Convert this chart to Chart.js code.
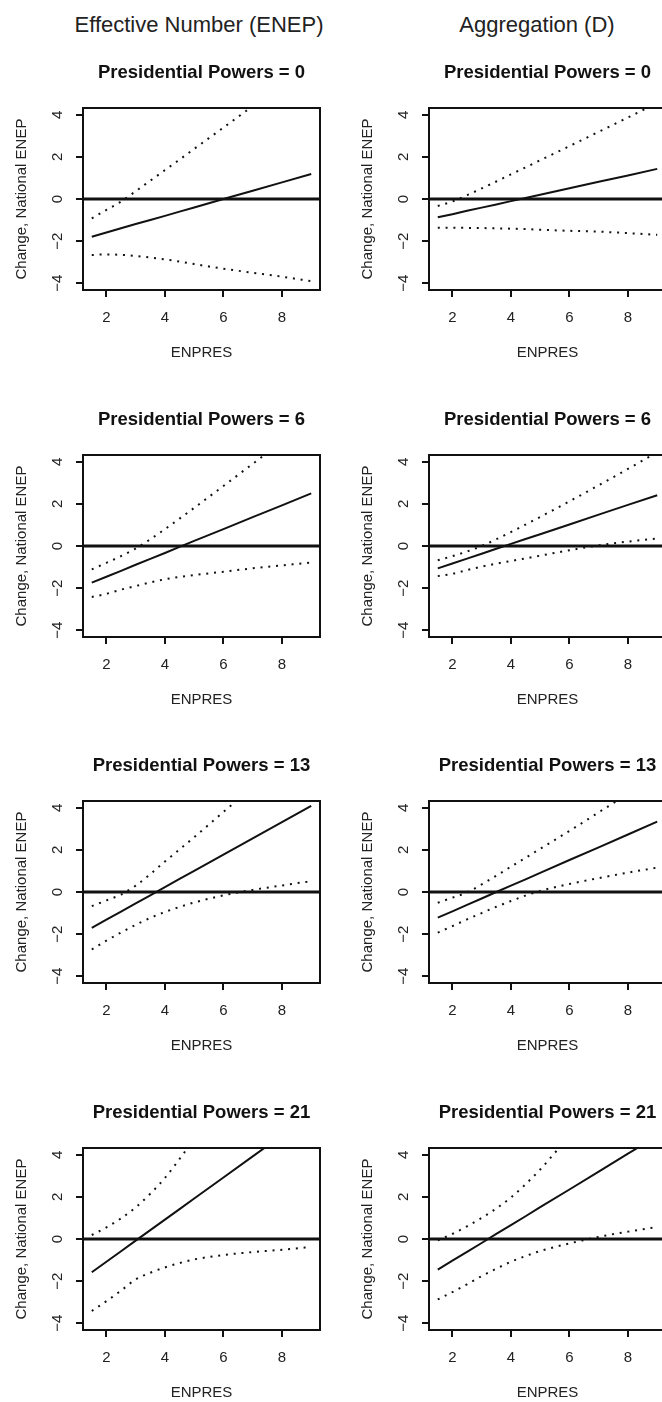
<!DOCTYPE html>
<html>
<head>
<meta charset="utf-8">
<script src="https://cdn.jsdelivr.net/npm/chart.js@4.4.1/dist/chart.umd.min.js"></script>
<style>
  html, body { margin: 0; padding: 0; background: #fff; }
  body { width: 662px; height: 1402px; overflow: hidden; position: relative; font-family: 'Liberation Sans', Arial, sans-serif; }
  .col-title { position: absolute; top: 10px; font-size: 22px; line-height: 30px; color: #222; transform: translateX(-50%); white-space: nowrap; }
  canvas { position: absolute; }
</style>
</head>
<body>
<div class="col-title" style="left:199px">Effective Number (ENEP)</div>
<div class="col-title" style="left:537px">Aggregation (D)</div>
<script>
const enpres = [1.5, 2, 2.5, 3, 3.5, 4, 4.5, 5, 6, 7, 8, 9];
const powers = [0, 6, 13, 21];
const xTicks = [2, 4, 6, 8];
const yTicks = [-4, -2, 0, 2, 4];

// Effective Number (ENEP) column, one row per presidential powers value
const enepEffect = [
  [-1.79, -1.59, -1.39, -1.19, -1.00, -0.80, -0.60, -0.40, 0.00, 0.39, 0.79, 1.19],
  [-1.74, -1.46, -1.18, -0.89, -0.61, -0.33, -0.04, 0.24, 0.80, 1.37, 1.93, 2.50],
  [-1.70, -1.31, -0.93, -0.54, -0.16, 0.23, 0.62, 1.00, 1.77, 2.55, 3.32, 4.09],
  [-1.58, -1.08, -0.58, -0.08, 0.42, 0.92, 1.42, 1.92, 2.92, 3.92, 4.92, 5.92]
];
const enepLower = [
  [-2.66, -2.63, -2.65, -2.71, -2.78, -2.87, -2.97, -3.09, -3.31, -3.50, -3.69, -3.90],
  [-2.42, -2.27, -2.07, -1.90, -1.73, -1.58, -1.47, -1.38, -1.22, -1.06, -0.92, -0.79],
  [-2.73, -2.31, -1.92, -1.56, -1.23, -0.95, -0.71, -0.50, -0.16, 0.10, 0.31, 0.52],
  [-3.42, -2.95, -2.45, -1.92, -1.60, -1.35, -1.14, -0.97, -0.76, -0.62, -0.51, -0.38]
];
const enepUpper = [
  [-0.92, -0.52, -0.12, 0.37, 0.87, 1.37, 1.87, 2.38, 3.39, 4.41, 5.44, 6.48],
  [-1.11, -0.80, -0.48, -0.12, 0.32, 0.80, 1.30, 1.81, 2.85, 3.90, 4.95, 6.00],
  [-0.67, -0.40, -0.12, 0.30, 0.85, 1.45, 2.02, 2.60, 3.80, 5.00, 6.20, 7.40],
  [0.19, 0.55, 0.98, 1.50, 2.15, 2.90, 3.80, 4.75, 6.60, 8.50, 10.40, 12.30]
];

// Aggregation (D) column
const aggEffect = [
  [-0.87, -0.72, -0.56, -0.41, -0.26, -0.10, 0.05, 0.20, 0.51, 0.82, 1.12, 1.43],
  [-1.06, -0.83, -0.60, -0.37, -0.13, 0.10, 0.33, 0.56, 1.02, 1.49, 1.95, 2.41],
  [-1.22, -0.92, -0.61, -0.31, 0.00, 0.30, 0.60, 0.91, 1.52, 2.12, 2.73, 3.34],
  [-1.45, -1.03, -0.61, -0.19, 0.24, 0.66, 1.08, 1.51, 2.35, 3.20, 4.05, 4.89]
];
const aggLower = [
  [-1.36, -1.36, -1.37, -1.38, -1.39, -1.41, -1.43, -1.46, -1.51, -1.55, -1.62, -1.70],
  [-1.43, -1.32, -1.14, -0.98, -0.84, -0.71, -0.59, -0.46, -0.20, 0.03, 0.21, 0.36],
  [-1.93, -1.62, -1.30, -1.00, -0.70, -0.43, -0.17, 0.05, 0.38, 0.66, 0.92, 1.16],
  [-2.87, -2.52, -2.15, -1.76, -1.41, -1.08, -0.81, -0.57, -0.21, 0.10, 0.35, 0.57]
];
const aggUpper = [
  [-0.33, -0.12, 0.18, 0.50, 0.83, 1.17, 1.50, 1.84, 2.51, 3.19, 3.87, 4.56],
  [-0.68, -0.48, -0.26, 0.00, 0.32, 0.66, 1.02, 1.38, 2.12, 2.88, 3.66, 4.45],
  [-0.51, -0.27, -0.02, 0.36, 0.77, 1.20, 1.62, 2.05, 2.90, 3.78, 4.66, 5.55],
  [-0.06, 0.24, 0.60, 1.00, 1.45, 1.97, 2.60, 3.30, 4.90, 6.50, 8.10, 9.70]
];

Chart.defaults.font.family = "'Liberation Sans', Arial, sans-serif";
Chart.defaults.color = '#222';

const rowTops = [35, 382, 728, 1075];
const colLefts = [0, 346];
const columns = [
  { est: enepEffect, low: enepLower, up: enepUpper },
  { est: aggEffect, low: aggLower, up: aggUpper }
];

// zero line, box round the plot region and outward tick marks
const boxPlugin = {
  id: 'box',
  afterDraw(chart) {
    const { ctx, chartArea: a } = chart;
    const xs = chart.scales.x;
    const ys = chart.scales.y;
    const y0 = ys.getPixelForValue(0);
    ctx.save();
    ctx.strokeStyle = '#111';
    ctx.lineWidth = 3;
    ctx.beginPath();
    ctx.moveTo(a.left, y0);
    ctx.lineTo(a.right, y0);
    ctx.stroke();

    ctx.lineWidth = 2;
    ctx.strokeRect(a.left, a.top, a.right - a.left, a.bottom - a.top);
    ctx.beginPath();
    xs.ticks.forEach(t => {
      const px = Math.round(xs.getPixelForValue(t.value));
      ctx.moveTo(px, a.bottom);
      ctx.lineTo(px, a.bottom + 7);
    });
    ys.ticks.forEach(t => {
      const py = Math.round(ys.getPixelForValue(t.value));
      ctx.moveTo(a.left, py);
      ctx.lineTo(a.left - 7, py);
    });
    ctx.stroke();
    ctx.restore();
  }
};

function series(vals, dotted) {
  return {
    data: enpres.map((x, i) => ({ x: x, y: vals[i] })),
    borderColor: '#111',
    borderWidth: 2,
    borderDash: dotted ? [2, 5.8] : [],
    pointRadius: 0,
    cubicInterpolationMode: dotted ? 'monotone' : 'default',
    fill: false
  };
}

const tickGrid = { drawOnChartArea: false, drawTicks: true, tickLength: 7, color: '#111', lineWidth: 2 };

function makePanel(col, row) {
  const canvas = document.createElement('canvas');
  canvas.width = 331;
  canvas.height = 347;
  canvas.style.left = colLefts[col] + 'px';
  canvas.style.top = rowTops[row] + 'px';
  document.body.appendChild(canvas);

  const c = columns[col];
  new Chart(canvas, {
    type: 'line',
    data: {
      datasets: [
        series(c.est[row], false),
        series(c.low[row], true),
        series(c.up[row], true)
      ]
    },
    options: {
      responsive: false,
      animation: false,
      layout: { padding: { left: 0, right: 11, top: 0, bottom: 0 } },
      plugins: {
        legend: { display: false },
        tooltip: { enabled: false },
        title: {
          display: true,
          text: 'Presidential Powers = ' + powers[row],
          color: '#111',
          fullSize: false,
          font: { size: 18.5, weight: 'bold' },
          padding: { top: 26.9, bottom: 23.9 }
        }
      },
      scales: {
        x: {
          type: 'linear',
          min: 1.2,
          max: 9.3,
          afterBuildTicks: s => { s.ticks = xTicks.map(v => ({ value: v })); },
          afterFit: s => { s.height = 92; },
          grid: tickGrid,
          border: { display: false },
          ticks: { padding: 12, font: { size: 15 } },
          title: { display: true, text: 'ENPRES', font: { size: 15 }, padding: { top: 0, bottom: 20 } }
        },
        y: {
          type: 'linear',
          min: -4.32,
          max: 4.32,
          afterBuildTicks: s => { s.ticks = yTicks.map(v => ({ value: v })); },
          afterFit: s => { s.width = 83; },
          grid: tickGrid,
          border: { display: false },
          ticks: {
            padding: 9.5,
            minRotation: 90,
            maxRotation: 90,
            crossAlign: 'center',
            font: { size: 15 },
            callback: v => v < 0 ? '\u2212' + (-v) : String(v)
          },
          title: { display: true, text: 'Change, National ENEP', font: { size: 15 }, padding: { top: 13, bottom: 0 } }
        }
      }
    },
    plugins: [boxPlugin]
  });
}

for (let row = 0; row < 4; row++) {
  makePanel(0, row);
  makePanel(1, row);
}
</script>
</body>
</html>
